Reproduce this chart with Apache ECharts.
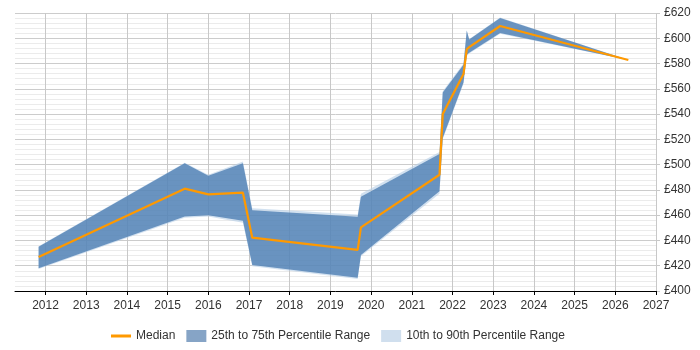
<!DOCTYPE html>
<html>
<head>
<meta charset="utf-8">
<script src="https://cdn.jsdelivr.net/npm/echarts@6/dist/echarts.min.js"></script>
<style>
  html, body { margin: 0; padding: 0; background: #fff; }
  #chart { width: 700px; height: 350px; }
</style>
</head>
<body>
<div id="chart"></div>
<script>
// decimal years
const years = [2011.83, 2015.42, 2016.0, 2016.85, 2017.08, 2019.67, 2019.75, 2021.68, 2021.76, 2022.27, 2022.35, 2022.41, 2023.17, 2026.32]
const median = [427, 481, 476.5, 477.8, 442.2, 432.5, 450.4, 492, 540, 571.7, 591.3, 593, 609.7, 582.8]
const p10 = [417.5, 458, 459, 454, 419.5, 409.5, 427.5, 477, 520, 564, 586, 588, 603.5, 582.8]
const p25 = [418, 459, 460, 455.5, 420.6, 410.5, 428.5, 479, 521, 565, 587, 588.5, 604.2, 582.8]
const p75 = [435, 501, 491.3, 501, 464, 458.8, 474.6, 508.5, 557, 579, 606, 599, 616, 582.8]
const p90 = [435.5, 501.5, 492, 502.5, 465.5, 460.5, 477, 510, 558, 580, 606.5, 599.5, 616.5, 582.8]
const yearTicks = [2012, 2013, 2014, 2015, 2016, 2017, 2018, 2019, 2020, 2021, 2022, 2023, 2024, 2025, 2026, 2027]

const DARK = 'rgba(70,120,175,0.75)'
const LIGHT = 'rgba(180,205,230,0.6)'

const pairs = vals => years.map((x, i) => [x, vals[i]])

// band drawn as one polygon: lower edge forward, upper edge back
function band(name, lo, hi, color) {
  const rows = years.map((x, i) => [x, lo[i], hi[i]])
  return {
    name,
    type: 'custom',
    silent: true,
    itemStyle: { color },
    encode: { x: 0, y: [1, 2] },
    data: rows,
    renderItem(params, api) {
      if (params.dataIndex !== 0) return null
      const pts = []
      rows.forEach(r => pts.push(api.coord([r[0], r[1]])))
      for (let i = rows.length - 1; i >= 0; i--) pts.push(api.coord([rows[i][0], rows[i][2]]))
      return {
        type: 'polygon',
        shape: { points: pts },
        style: { fill: color }
      }
    }
  }
}

const chart = echarts.init(document.getElementById('chart'))

chart.setOption({
  animation: false,
  grid: { left: 15, right: 44, top: 13, bottom: 59 },
  legend: {
    top: 325,
    left: 106,
    itemWidth: 20,
    itemHeight: 12,
    itemGap: 11,
    textStyle: { fontFamily: 'Liberation Sans', fontSize: 12, color: '#333' },
    data: [
      { name: 'Median', icon: 'path://M0,0L20,0L20,0.01ZM0,4.5L20,4.5L20,7.5L0,7.5ZM0,12L20,12L20,11.99Z', itemStyle: { color: '#ff9900' } },
      { name: '25th to 75th Percentile Range', icon: 'rect', itemStyle: { color: '#86a4c6' } },
      { name: '10th to 90th Percentile Range', icon: 'rect', itemStyle: { color: '#d0dfee' } }
    ]
  },
  xAxis: {
    type: 'value',
    min: 2011.25,
    max: 2027,
    axisLine: { show: true, lineStyle: { color: '#000', width: 1 } },
    axisTick: { show: true, length: 4, lineStyle: { color: '#000' }, customValues: yearTicks },
    axisLabel: {
      customValues: yearTicks,
      color: '#333',
      fontFamily: 'Liberation Sans',
      fontSize: 12,
      margin: 9,
      formatter: v => String(Math.round(v))
    },
    splitLine: { show: true, lineStyle: { color: '#c8c8c8' } }
  },
  yAxis: {
    type: 'value',
    position: 'right',
    min: 400,
    max: 620,
    interval: 20,
    axisLine: { show: false },
    axisTick: { show: true, length: 4, lineStyle: { color: '#c8c8c8' } },
    axisLabel: {
      color: '#333',
      fontFamily: 'Liberation Sans',
      fontSize: 12,
      margin: 8,
      formatter: v => '£' + v
    },
    splitLine: { show: true, lineStyle: { color: '#cccccc' } },
    minorTick: { show: false, splitNumber: 5 },
    minorSplitLine: { show: true, lineStyle: { color: '#ebebeb' } }
  },
  series: [
    band('10th to 90th Percentile Range', p10, p90, LIGHT),
    band('25th to 75th Percentile Range', p25, p75, DARK),
    {
      name: 'Median',
      type: 'line',
      symbol: 'none',
      itemStyle: { color: '#ff9900' },
      lineStyle: { color: '#ff9900', width: 2.2 },
      data: pairs(median)
    }
  ]
})
</script>
</body>
</html>
